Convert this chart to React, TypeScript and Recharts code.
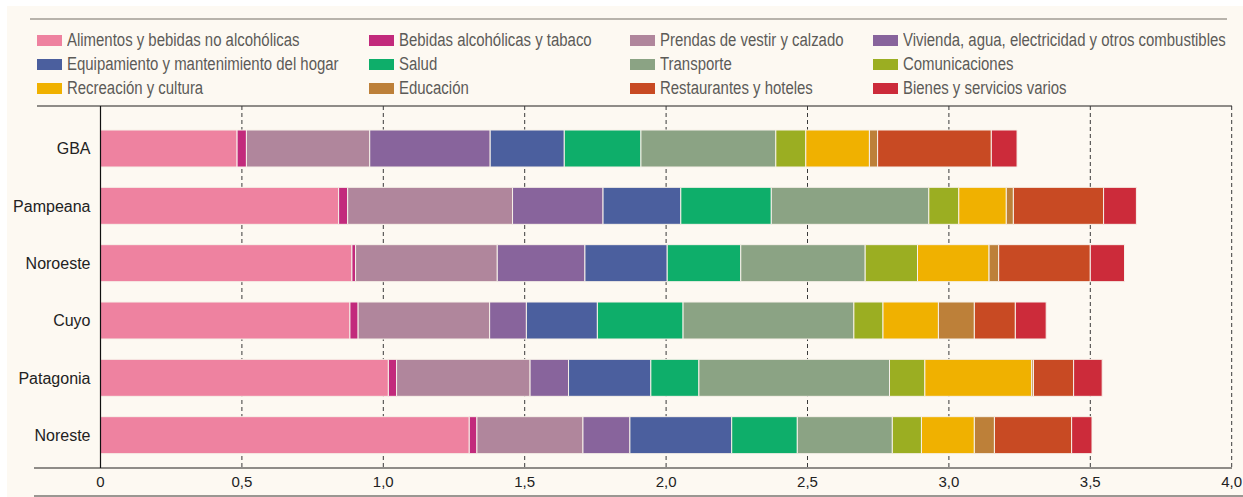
import React from "react";
import { BarChart, Bar, XAxis, YAxis, CartesianGrid } from "recharts";

const regions = ["GBA", "Pampeana", "Noroeste", "Cuyo", "Patagonia", "Noreste"];

// one array per spending group, values in the same order as regions
const alimentos = [0.483, 0.842, 0.889, 0.882, 1.018, 1.304];
const bebidas = [0.033, 0.032, 0.013, 0.029, 0.029, 0.027];
const prendas = [0.436, 0.583, 0.501, 0.465, 0.472, 0.375];
const vivienda = [0.426, 0.32, 0.31, 0.13, 0.136, 0.166];
const equipamiento = [0.262, 0.275, 0.291, 0.251, 0.291, 0.36];
const salud = [0.271, 0.32, 0.26, 0.303, 0.17, 0.232];
const transporte = [0.477, 0.557, 0.44, 0.604, 0.674, 0.336];
const comunicaciones = [0.106, 0.106, 0.185, 0.103, 0.125, 0.103];
const recreacion = [0.225, 0.168, 0.253, 0.196, 0.378, 0.187];
const educacion = [0.029, 0.025, 0.034, 0.127, 0.006, 0.071];
const restaurantes = [0.402, 0.319, 0.324, 0.145, 0.142, 0.273];
const bienes = [0.091, 0.116, 0.121, 0.109, 0.101, 0.072];

const xTicks = [0, 0.5, 1, 1.5, 2, 2.5, 3, 3.5, 4];

const SERIES = [
  { key: "alimentos", name: "Alimentos y bebidas no alcohólicas", color: "#ee82a0", values: alimentos },
  { key: "bebidas", name: "Bebidas alcohólicas y tabaco", color: "#c22a7c", values: bebidas },
  { key: "prendas", name: "Prendas de vestir y calzado", color: "#b0869c", values: prendas },
  { key: "vivienda", name: "Vivienda, agua, electricidad y otros combustibles", color: "#88649c", values: vivienda },
  { key: "equipamiento", name: "Equipamiento y mantenimiento del hogar", color: "#4b5f9e", values: equipamiento },
  { key: "salud", name: "Salud", color: "#0eae6a", values: salud },
  { key: "transporte", name: "Transporte", color: "#8ba384", values: transporte },
  { key: "comunicaciones", name: "Comunicaciones", color: "#9bae22", values: comunicaciones },
  { key: "recreacion", name: "Recreación y cultura", color: "#f0b100", values: recreacion },
  { key: "educacion", name: "Educación", color: "#bd8039", values: educacion },
  { key: "restaurantes", name: "Restaurantes y hoteles", color: "#c84a23", values: restaurantes },
  { key: "bienes", name: "Bienes y servicios varios", color: "#cc2b3a", values: bienes },
];

const data = regions.map((region, i) => {
  const row: Record<string, string | number> = { region };
  SERIES.forEach((s) => {
    row[s.key] = s.values[i];
  });
  return row;
});

const legendCols = [37, 369, 630, 873];
const legendRows = [40, 64, 88];

const fmt = (v: number) => (v === 0 ? "0" : v.toFixed(1).replace(".", ","));

const hline = (top: number, left: number, width: number, color: string, h = 1.5) => (
  <div
    style={{
      position: "absolute",
      top: top - h / 2,
      left,
      width,
      height: h,
      background: color,
    }}
  />
);

export default function App() {
  return (
    <div
      style={{
        position: "absolute",
        left: 0,
        top: 0,
        width: 1243,
        height: 497,
        background: "#ffffff",
        overflow: "hidden",
      }}
    >
      <div
        style={{
          position: "absolute",
          left: 7,
          top: 6,
          right: 0,
          bottom: 0,
          background: "#fdf9f2",
        }}
      />
      {hline(19, 30, 1197, "#b8b3ab", 2)}
      {hline(106, 37, 1195, "#8f8c88", 1.5)}
      {hline(468, 34, 1198, "#8f8c88", 1.5)}
      {hline(496, 34, 1209, "#9a9792", 2)}

      {SERIES.map((s, i) => {
        const col = i % 4;
        const row = Math.floor(i / 4);
        return (
          <div
            key={s.key}
            style={{
              position: "absolute",
              left: legendCols[col],
              top: legendRows[row] - 11,
              height: 22,
              display: "flex",
              alignItems: "center",
              whiteSpace: "nowrap",
            }}
          >
            <span
              style={{
                display: "inline-block",
                width: 25,
                height: 11,
                background: s.color,
                marginRight: 5,
              }}
            />
            <span
              style={{
                display: "inline-block",
                fontFamily: "'Liberation Sans', Arial, sans-serif",
                fontSize: 18,
                color: "#5c5b58",
                transform: "scaleX(0.83)",
                transformOrigin: "left center",
              }}
            >
              {s.name}
            </span>
          </div>
        );
      })}

      <div style={{ position: "absolute", left: 0, top: 0 }}>
        <BarChart
          width={1243}
          height={497}
          data={data}
          layout="vertical"
          margin={{ top: 106, right: 11.3, bottom: 0, left: 0 }}
          barSize={37}
        >
          <CartesianGrid
            horizontal={false}
            vertical
            stroke="#3a3a3a"
            strokeDasharray="4 3"
          />
          <XAxis
            type="number"
            domain={[0, 4]}
            ticks={xTicks}
            tickFormatter={fmt}
            axisLine={false}
            tickLine={false}
            height={29}
            tickMargin={2}
            interval={0}
            tick={{ fontFamily: "'Liberation Sans', Arial, sans-serif", fontSize: 15, fill: "#222" }}
          />
          <YAxis
            type="category"
            dataKey="region"
            width={100.5}
            padding={{ top: 14, bottom: 4 }}
            axisLine={{ stroke: "#111", strokeWidth: 1.2 }}
            tickLine={false}
            tickMargin={4}
            tick={{ fontFamily: "'Liberation Sans', Arial, sans-serif", fontSize: 16, fill: "#222" }}
          />
          {SERIES.map((s) => (
            <Bar
              key={s.key}
              dataKey={s.key}
              name={s.name}
              stackId="a"
              fill={s.color}
              stroke="#f7f1e9"
              strokeWidth={1}
              isAnimationActive={false}
            />
          ))}
        </BarChart>
      </div>
    </div>
  );
}
